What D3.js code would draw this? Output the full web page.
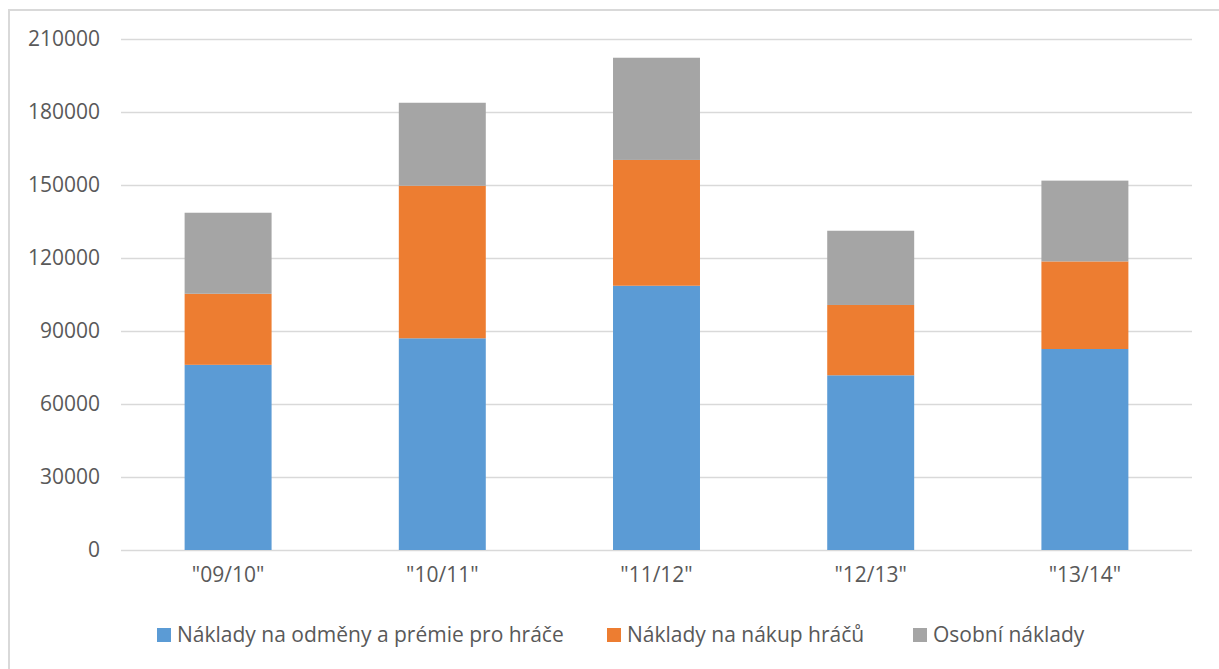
<!DOCTYPE html>
<html>
<head>
<meta charset="utf-8">
<script src="https://cdn.jsdelivr.net/npm/d3@7"></script>
<style>
  html, body { margin: 0; padding: 0; background: #ffffff; }
  svg { display: block; }
  text { font-family: "Open Sans", "DejaVu Sans", sans-serif; fill: #595959; }
</style>
</head>
<body>
<svg id="chart" width="1219" height="669"></svg>
<script>
const categories = ['"09/10"', '"10/11"', '"11/12"', '"12/13"', '"13/14"'];
const seriesNames = ["Náklady na odměny a prémie pro hráče", "Náklady na nákup hráčů", "Osobní náklady"];
const odmeny = [76100, 87000, 108600, 71800, 82600];
const nakup = [29200, 62700, 51700, 28900, 36000];
const osobni = [33300, 34100, 42000, 30500, 33200];
const yTicks = [0, 30000, 60000, 90000, 120000, 150000, 180000, 210000];
const colors = ["#5B9BD5", "#ED7D31", "#A5A5A5"];

const rows = categories.map((c, i) => ({ cat: c, s0: odmeny[i], s1: nakup[i], s2: osobni[i] }));
const keys = ["s0", "s1", "s2"];

const svg = d3.select("#chart");

// outer chart frame
svg.append("rect")
  .attr("x", 9).attr("y", 10)
  .attr("width", 1230).attr("height", 680)
  .attr("fill", "#ffffff")
  .attr("stroke", "#D9D9D9").attr("stroke-width", 2);

const x = d3.scaleBand()
  .domain(categories)
  .range([121, 1192])
  .paddingInner(0.594)
  .paddingOuter(0.297);

const y = d3.scaleLinear().domain([0, 210000]).range([550, 39]);

// gridlines
svg.append("g")
  .selectAll("line")
  .data(yTicks)
  .join("line")
  .attr("x1", 121).attr("x2", 1192)
  .attr("y1", d => Math.round(y(d)) + 0.5)
  .attr("y2", d => Math.round(y(d)) + 0.5)
  .attr("stroke", "#D9D9D9").attr("stroke-width", 1.5);

// y axis labels
const yAxis = d3.axisLeft(y).tickValues(yTicks).tickSize(0).tickPadding(0).tickFormat(d3.format("d"));
const gy = svg.append("g").attr("transform", "translate(100,0)").call(yAxis);
gy.select(".domain").remove();
gy.selectAll("text")
  .attr("font-size", 21)
  .attr("font-family", null)
  .attr("fill", null);

// stacked bars
const stack = d3.stack().keys(keys);
const stacked = stack(rows);

svg.append("g")
  .selectAll("g")
  .data(stacked)
  .join("g")
  .attr("fill", (d, i) => colors[i])
  .selectAll("rect")
  .data(d => d)
  .join("rect")
  .attr("x", d => x(d.data.cat))
  .attr("width", x.bandwidth())
  .attr("y", d => y(d[1]))
  .attr("height", d => y(d[0]) - y(d[1]));

// x axis labels
const xAxis = d3.axisBottom(x).tickSize(0).tickPadding(0);
const gx = svg.append("g").attr("transform", "translate(0,567)").call(xAxis);
gx.select(".domain").remove();
gx.selectAll("text")
  .attr("font-size", 21)
  .attr("font-family", null)
  .attr("fill", null)
  .attr("dy", "0.71em");

// legend
const legendX = [157, 607, 913];
const legend = svg.append("g")
  .selectAll("g")
  .data(seriesNames)
  .join("g")
  .attr("transform", (d, i) => `translate(${legendX[i]},635)`);
legend.append("rect")
  .attr("x", 0).attr("y", -7)
  .attr("width", 14).attr("height", 14)
  .attr("fill", (d, i) => colors[i]);
legend.append("text")
  .attr("x", 20).attr("y", 0)
  .attr("dy", "0.35em")
  .attr("font-size", 21)
  .text(d => d);
</script>
</body>
</html>
